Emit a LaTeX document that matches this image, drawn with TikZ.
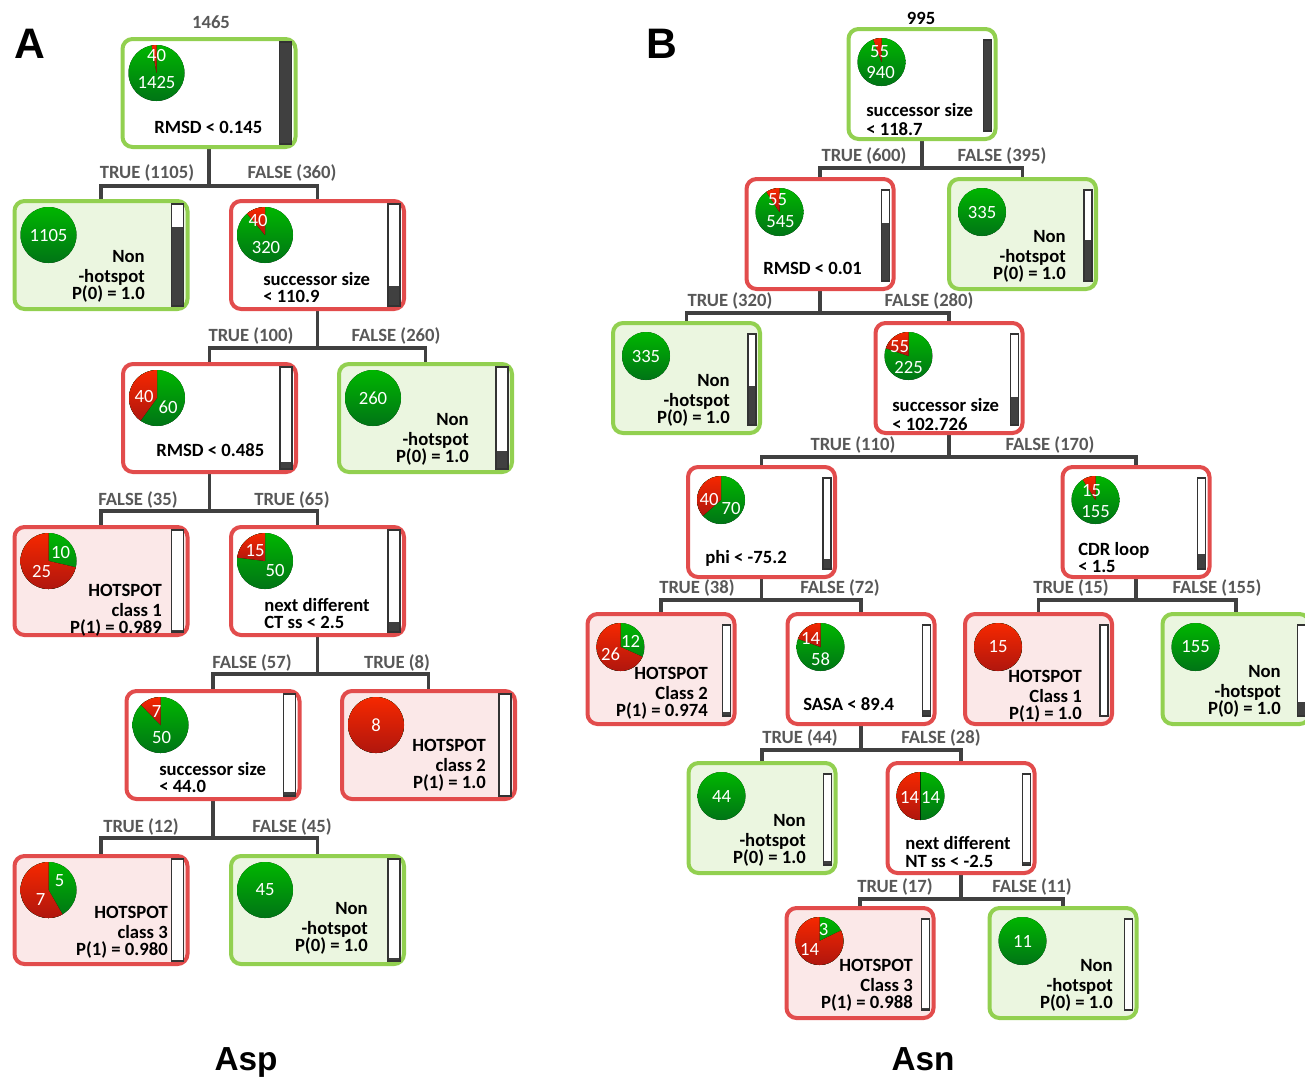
\documentclass[tikz,border=0pt]{standalone}
\usepackage{fontspec}
\setmainfont{Carlito}
\newfontfamily\headfont{Liberation Sans}
\usetikzlibrary{calc,backgrounds}

\definecolor{hotline}{RGB}{226,76,76}
\definecolor{hotfill}{RGB}{251,232,232}
\definecolor{nonline}{RGB}{146,208,80}
\definecolor{nonfill}{RGB}{235,246,224}
\definecolor{treeline}{RGB}{64,64,64}
\definecolor{labgray}{RGB}{88,88,88}
\definecolor{pgreen}{RGB}{0,182,0}
\definecolor{pgreendk}{RGB}{0,116,22}
\definecolor{pred}{RGB}{246,40,0}
\definecolor{preddk}{RGB}{176,22,14}

% pie of a box: box name, offset from corner, radius, red angle
\newcommand{\nodepie}[4]{%
  \coordinate (#1p) at ($(#1.north west)+(#2,#2)$);
  \fill[top color=pgreen, bottom color=pgreendk] (#1p) circle[radius=#3];
  \ifdim#4pt>0pt
    \fill[top color=pred, bottom color=preddk] (#1p) -- ++(0,-#3)
      arc[start angle=270, end angle=270-#4, radius=#3] -- cycle;
  \fi}

% share bar of a box: box name, width, top inset, bottom inset, filled part
\newcommand{\fracbar}[5]{%
  \coordinate (#1bt) at ($(#1.north east)+(-6,#3)$);
  \coordinate (#1bb) at ($(#1.south east)+(-6,-#4)$);
  \draw[barbox] ($(#1bt)+(-#2,0)$) rectangle (#1bb);
  \fill[barfill] ($(#1bb)+(-#2,0)$) rectangle ($(#1bb)!#5!(#1bt)$);
  \draw[barbox, fill=none] ($(#1bt)+(-#2,0)$) rectangle (#1bb);}

\begin{document}
\begin{tikzpicture}[x=0.75pt, y=-0.75pt,
  box/.style = {draw, rounded corners=7.5pt, line width=3pt,
    minimum height=81pt, inner sep=0pt},
  boxA/.style = {box, minimum width=129.75pt},
  boxB/.style = {box, minimum width=110.25pt, minimum height=82.5pt},
  hotsplit/.style = {draw=hotline, fill=white},
  nonsplit/.style = {draw=nonline, fill=white},
  hotleaf/.style = {draw=hotline, fill=hotfill},
  nonleaf/.style = {draw=nonline, fill=nonfill},
  branch/.style = {draw=treeline, line width=2.5pt},
  cond/.style = {font=\bfseries\fontsize{14}{13.2}\selectfont,
    inner sep=0pt, align=left},
  leaftxt/.style = {cond, align=right, anchor=north east},
  num/.style = {text=white, font=\fontsize{14}{14}\selectfont, inner sep=0pt},
  tf/.style = {text=labgray, font=\bfseries\fontsize{14}{14}\selectfont,
    inner sep=0pt, anchor=south},
  barbox/.style = {draw=black!80, line width=1.1pt, fill=white},
  barfill/.style = {fill=black!75},
  headA/.style = {font=\headfont\bfseries\fontsize{32}{32}\selectfont},
  headB/.style = {font=\headfont\bfseries\fontsize{25}{25}\selectfont,
    anchor=base, inner sep=0pt}]

\useasboundingbox (0,0) rectangle (1305,1079);
\clip (0,0) rectangle (1305,1079);

% ---- tree A (Asp)
\node[headA] (alab) at (30,44) {A};
\node[tf, anchor=center] (atot) at (211,22) {1465};
\node[boxA, nonsplit] (a0) at (209,93) {};
\node[boxA, nonleaf] (a1) at (101,255) {};
\node[boxA, hotsplit] (a2) at (317.5,255) {};
\node[boxA, hotsplit] (a3) at (209.5,418) {};
\node[boxA, nonleaf] (a4) at (425.5,418) {};
\node[boxA, hotleaf] (a5) at (101,581) {};
\node[boxA, hotsplit] (a6) at (317.5,581) {};
\node[boxA, hotsplit] (a7) at (213,745) {};
\node[boxA, hotleaf] (a8) at (428.5,745) {};
\node[boxA, hotleaf] (a9) at (101,910) {};
\node[boxA, nonleaf] (a10) at (317.5,910) {};

\begin{scope}[on background layer]
  \draw[branch] (a0.south) -- ++(0,37) coordinate (a0j);
  \draw[branch] (a1.north) |- (a0j) -| (a2.north);
  \draw[branch] (a2.south) -- ++(0,37) coordinate (a2j);
  \draw[branch] (a3.north) |- (a2j) -| (a4.north);
  \draw[branch] (a3.south) -- ++(0,37) coordinate (a3j);
  \draw[branch] (a5.north) |- (a3j) -| (a6.north);
  \draw[branch] (a6.south) -- ++(0,37) coordinate (a6j);
  \draw[branch] (a7.north) |- (a6j) -| (a8.north);
  \draw[branch] (a7.south) -- ++(0,37) coordinate (a7j);
  \draw[branch] (a9.north) |- (a7j) -| (a10.north);
\end{scope}

\node[tf] (a0yes) at (147,182) {TRUE (1105)};
\node[tf] (a0no) at (292,182) {FALSE (360)};
\node[tf] (a2yes) at (251,345) {TRUE (100)};
\node[tf] (a2no) at (396,345) {FALSE (260)};
\node[tf] (a3no) at (138,509) {FALSE (35)};
\node[tf] (a3yes) at (292,509) {TRUE (65)};
\node[tf] (a6no) at (252,672) {FALSE (57)};
\node[tf] (a6yes) at (397,672) {TRUE (8)};
\node[tf] (a7yes) at (141,836) {TRUE (12)};
\node[tf] (a7no) at (292,836) {FALSE (45)};

\nodepie{a0}{36}{28}{9.8}
\node[num] (a0n1) at ($(a0p)+(0,-17)$) {40};
\node[num] (a0n2) at ($(a0p)+(0,10)$) {1425};
\nodepie{a1}{36}{28}{0}
\node[num] (a1n1) at (a1p) {1105};
\nodepie{a2}{36}{28}{40}
\node[num] (a2n1) at ($(a2p)+(-7,-15)$) {40};
\node[num] (a2n2) at ($(a2p)+(1,12)$) {320};
\nodepie{a3}{36}{28}{144}
\node[num] (a3n1) at ($(a3p)+(-13,-2)$) {40};
\node[num] (a3n2) at ($(a3p)+(11,9)$) {60};
\nodepie{a4}{36}{28}{0}
\node[num] (a4n1) at (a4p) {260};
\nodepie{a5}{36}{28}{257}
\node[num] (a5n1) at ($(a5p)+(12,-9)$) {10};
\node[num] (a5n2) at ($(a5p)+(-7,10)$) {25};
\nodepie{a6}{36}{28}{83}
\node[num] (a6n1) at ($(a6p)+(-10,-10)$) {15};
\node[num] (a6n2) at ($(a6p)+(10,9)$) {50};
\nodepie{a7}{36}{28}{44}
\node[num] (a7n1) at ($(a7p)+(-4,-14)$) {7};
\node[num] (a7n2) at ($(a7p)+(1,12)$) {50};
\nodepie{a8}{36}{28}{360}
\node[num] (a8n1) at (a8p) {8};
\nodepie{a9}{36}{28}{210}
\node[num] (a9n1) at ($(a9p)+(11,-9)$) {5};
\node[num] (a9n2) at ($(a9p)+(-8,9)$) {7};
\nodepie{a10}{36}{28}{0}
\node[num] (a10n1) at (a10p) {45};

\fracbar{a0}{12}{5}{5}{1}
\fracbar{a1}{12}{5}{5}{0.77}
\fracbar{a2}{12}{5}{5}{0.2}
\fracbar{a3}{12}{5}{5}{0.07}
\fracbar{a4}{12}{5}{5}{0.18}
\fracbar{a5}{12}{5}{5}{0.024}
\fracbar{a6}{12}{5}{5}{0.1}
\fracbar{a7}{12}{5}{5}{0.04}
\fracbar{a8}{12}{5}{5}{0.006}
\fracbar{a9}{12}{5}{5}{0.01}
\fracbar{a10}{12}{5}{5}{0.03}

\node[cond, anchor=west] (a0txt) at (154,127) {RMSD < 0.145};
\node[leaftxt] (a1txt) at (145,250) {\strut Non\\-hotspot\\P(0) = 1.0};
\node[cond, anchor=north west] (a2txt) at (263,272) {\strut successor size\\< 110.9};
\node[cond, anchor=west] (a3txt) at (156,450) {RMSD < 0.485};
\node[leaftxt] (a4txt) at (469,413) {\strut Non\\-hotspot\\P(0) = 1.0};
\node[leaftxt] (a5txt) at (162,584) {\strut HOTSPOT\\class 1\\P(1) = 0.989};
\node[cond, anchor=north west] (a6txt) at (264,598) {\strut next different\\CT ss < 2.5};
\node[cond, anchor=north west] (a7txt) at (159,762) {\strut successor size\\< 44.0};
\node[leaftxt] (a8txt) at (486,739) {\strut HOTSPOT\\class 2\\P(1) = 1.0};
\node[leaftxt] (a9txt) at (168,906) {\strut HOTSPOT\\class 3\\P(1) = 0.980};
\node[leaftxt] (a10txt) at (368,902) {\strut Non\\-hotspot\\P(0) = 1.0};

\node[headB] (atitle) at (246,1070) {Asp};

% ---- tree B (Asn)
\node[headA] (blab) at (662,44) {B};
\node[tf, anchor=center, text=black] (btot) at (921,18) {995};
\node[boxB, nonsplit] (b0) at (922,84) {};
\node[boxB, hotsplit] (b1) at (820,234) {};
\node[boxB, nonleaf] (b2) at (1022.5,234) {};
\node[boxB, nonleaf] (b3) at (686.5,378) {};
\node[boxB, hotsplit] (b4) at (949,378) {};
\node[boxB, hotsplit] (b5) at (761.5,522) {};
\node[boxB, hotsplit] (b6) at (1136,522) {};
\node[boxB, hotleaf] (b7) at (661,669) {};
\node[boxB, hotsplit] (b8) at (861,669) {};
\node[boxB, hotleaf] (b9) at (1038.5,669) {};
\node[boxB, nonleaf] (b10) at (1236,669) {};
\node[boxB, nonleaf] (b11) at (762,818) {};
\node[boxB, hotsplit] (b12) at (961,818) {};
\node[boxB, hotleaf] (b13) at (860,963) {};
\node[boxB, nonleaf] (b14) at (1063,963) {};

\begin{scope}[on background layer]
  \draw[branch] (b0.south) -- ++(0,27) coordinate (b0j);
  \draw[branch] (b1.north) |- (b0j) -| (b2.north);
  \draw[branch] (b1.south) -- ++(0,22) coordinate (b1j);
  \draw[branch] (b3.north) |- (b1j) -| (b4.north);
  \draw[branch] (b4.south) -- ++(0,22) coordinate (b4j);
  \draw[branch] (b5.north) |- (b4j) -| (b6.north);
  \draw[branch] (b5.south) -- ++(0,21) coordinate (b5j);
  \draw[branch] (b7.north) |- (b5j) -| (b8.north);
  \draw[branch] (b6.south) -- ++(0,21) coordinate (b6j);
  \draw[branch] (b9.north) |- (b6j) -| (b10.north);
  \draw[branch] (b8.south) -- ++(0,24) coordinate (b8j);
  \draw[branch] (b11.north) |- (b8j) -| (b12.north);
  \draw[branch] (b12.south) -- ++(0,24) coordinate (b12j);
  \draw[branch] (b13.north) |- (b12j) -| (b14.north);
\end{scope}

\node[tf] (b0yes) at (864,165) {TRUE (600)};
\node[tf] (b0no) at (1002,165) {FALSE (395)};
\node[tf] (b1yes) at (730,310) {TRUE (320)};
\node[tf] (b1no) at (929,310) {FALSE (280)};
\node[tf] (b4yes) at (853,454) {TRUE (110)};
\node[tf] (b4no) at (1050,454) {FALSE (170)};
\node[tf] (b5yes) at (697,597) {TRUE (38)};
\node[tf] (b5no) at (840,597) {FALSE (72)};
\node[tf] (b6yes) at (1071,597) {TRUE (15)};
\node[tf] (b6no) at (1217,597) {FALSE (155)};
\node[tf] (b8yes) at (800,747) {TRUE (44)};
\node[tf] (b8no) at (941,747) {FALSE (28)};
\node[tf] (b12yes) at (895,896) {TRUE (17)};
\node[tf] (b12no) at (1032,896) {FALSE (11)};

\nodepie{b0}{35}{24}{20}
\node[num] (b0n1) at ($(b0p)+(-2,-10)$) {55};
\node[num] (b0n2) at ($(b0p)+(-1,11)$) {940};
\nodepie{b1}{35}{24}{33}
\node[num] (b1n1) at ($(b1p)+(-2,-12)$) {55};
\node[num] (b1n2) at ($(b1p)+(1,10)$) {545};
\nodepie{b2}{35}{24}{0}
\node[num] (b2n1) at (b2p) {335};
\nodepie{b3}{35}{24}{0}
\node[num] (b3n1) at (b3p) {335};
\nodepie{b4}{35}{24}{71}
\node[num] (b4n1) at ($(b4p)+(-9,-9)$) {55};
\node[num] (b4n2) at ($(b4p)+(0,11)$) {225};
\nodepie{b5}{35}{24}{131}
\node[num] (b5n1) at ($(b5p)+(-12,-1)$) {40};
\node[num] (b5n2) at ($(b5p)+(10,8)$) {70};
\nodepie{b6}{35}{24}{32}
\node[num] (b6n1) at ($(b6p)+(-4,-9)$) {15};
\node[num] (b6n2) at ($(b6p)+(0,12)$) {155};
\nodepie{b7}{35}{24}{246}
\node[num] (b7n1) at ($(b7p)+(10,-6)$) {12};
\node[num] (b7n2) at ($(b7p)+(-10,7)$) {26};
\nodepie{b8}{35}{24}{70}
\node[num] (b8n1) at ($(b8p)+(-10,-9)$) {14};
\node[num] (b8n2) at ($(b8p)+(0,12)$) {58};
\nodepie{b9}{35}{24}{360}
\node[num] (b9n1) at (b9p) {15};
\nodepie{b10}{35}{24}{0}
\node[num] (b10n1) at (b10p) {155};
\nodepie{b11}{35}{24}{0}
\node[num] (b11n1) at (b11p) {44};
\nodepie{b12}{35}{24}{180}
\node[num] (b12n1) at ($(b12p)+(-11,1)$) {14};
\node[num] (b12n2) at ($(b12p)+(10,1)$) {14};
\nodepie{b13}{35}{24}{296}
\node[num] (b13n1) at ($(b13p)+(4,-12)$) {3};
\node[num] (b13n2) at ($(b13p)+(-10,8)$) {14};
\nodepie{b14}{35}{24}{0}
\node[num] (b14n1) at (b14p) {11};

\fracbar{b0}{8}{13}{10}{1}
\fracbar{b1}{8}{13}{10}{0.64}
\fracbar{b2}{8}{13}{10}{0.45}
\fracbar{b3}{8}{13}{10}{0.43}
\fracbar{b4}{8}{13}{10}{0.31}
\fracbar{b5}{8}{13}{10}{0.11}
\fracbar{b6}{8}{13}{10}{0.17}
\fracbar{b7}{8}{13}{10}{0.04}
\fracbar{b8}{8}{13}{10}{0.07}
\fracbar{b9}{8}{13}{10}{0.015}
\fracbar{b10}{8}{13}{10}{0.156}
\fracbar{b11}{8}{13}{10}{0.044}
\fracbar{b12}{8}{13}{10}{0.028}
\fracbar{b13}{8}{13}{10}{0.017}
\fracbar{b14}{8}{13}{10}{0.011}

\node[cond, anchor=north west] (b0txt) at (866,103) {\strut successor size\\< 118.7};
\node[cond, anchor=west] (b1txt) at (763,268) {RMSD < 0.01};
\node[leaftxt] (b2txt) at (1066,230) {\strut Non\\-hotspot\\P(0) = 1.0};
\node[leaftxt] (b3txt) at (730,374) {\strut Non\\-hotspot\\P(0) = 1.0};
\node[cond, anchor=north west] (b4txt) at (892,398) {\strut successor size\\< 102.726};
\node[cond, anchor=west] (b5txt) at (705,558) {phi < -75.2};
\node[cond, anchor=north west] (b6txt) at (1078,542) {\strut CDR loop\\< 1.5};
\node[leaftxt] (b7txt) at (708,667) {\strut HOTSPOT\\Class 2\\P(1) = 0.974};
\node[cond, anchor=west] (b8txt) at (803,704) {SASA < 89.4};
\node[leaftxt] (b9txt) at (1082,670) {\strut HOTSPOT\\Class 1\\P(1) = 1.0};
\node[leaftxt] (b10txt) at (1281,665) {\strut Non\\-hotspot\\P(0) = 1.0};
\node[leaftxt] (b11txt) at (806,814) {\strut Non\\-hotspot\\P(0) = 1.0};
\node[cond, anchor=north west] (b12txt) at (905,836) {\strut next different\\NT ss < -2.5};
\node[leaftxt] (b13txt) at (913,959) {\strut HOTSPOT\\Class 3\\P(1) = 0.988};
\node[leaftxt] (b14txt) at (1113,959) {\strut Non\\-hotspot\\P(0) = 1.0};

\node[headB] (btitle) at (923,1070) {Asn};
\end{tikzpicture}
\end{document}
